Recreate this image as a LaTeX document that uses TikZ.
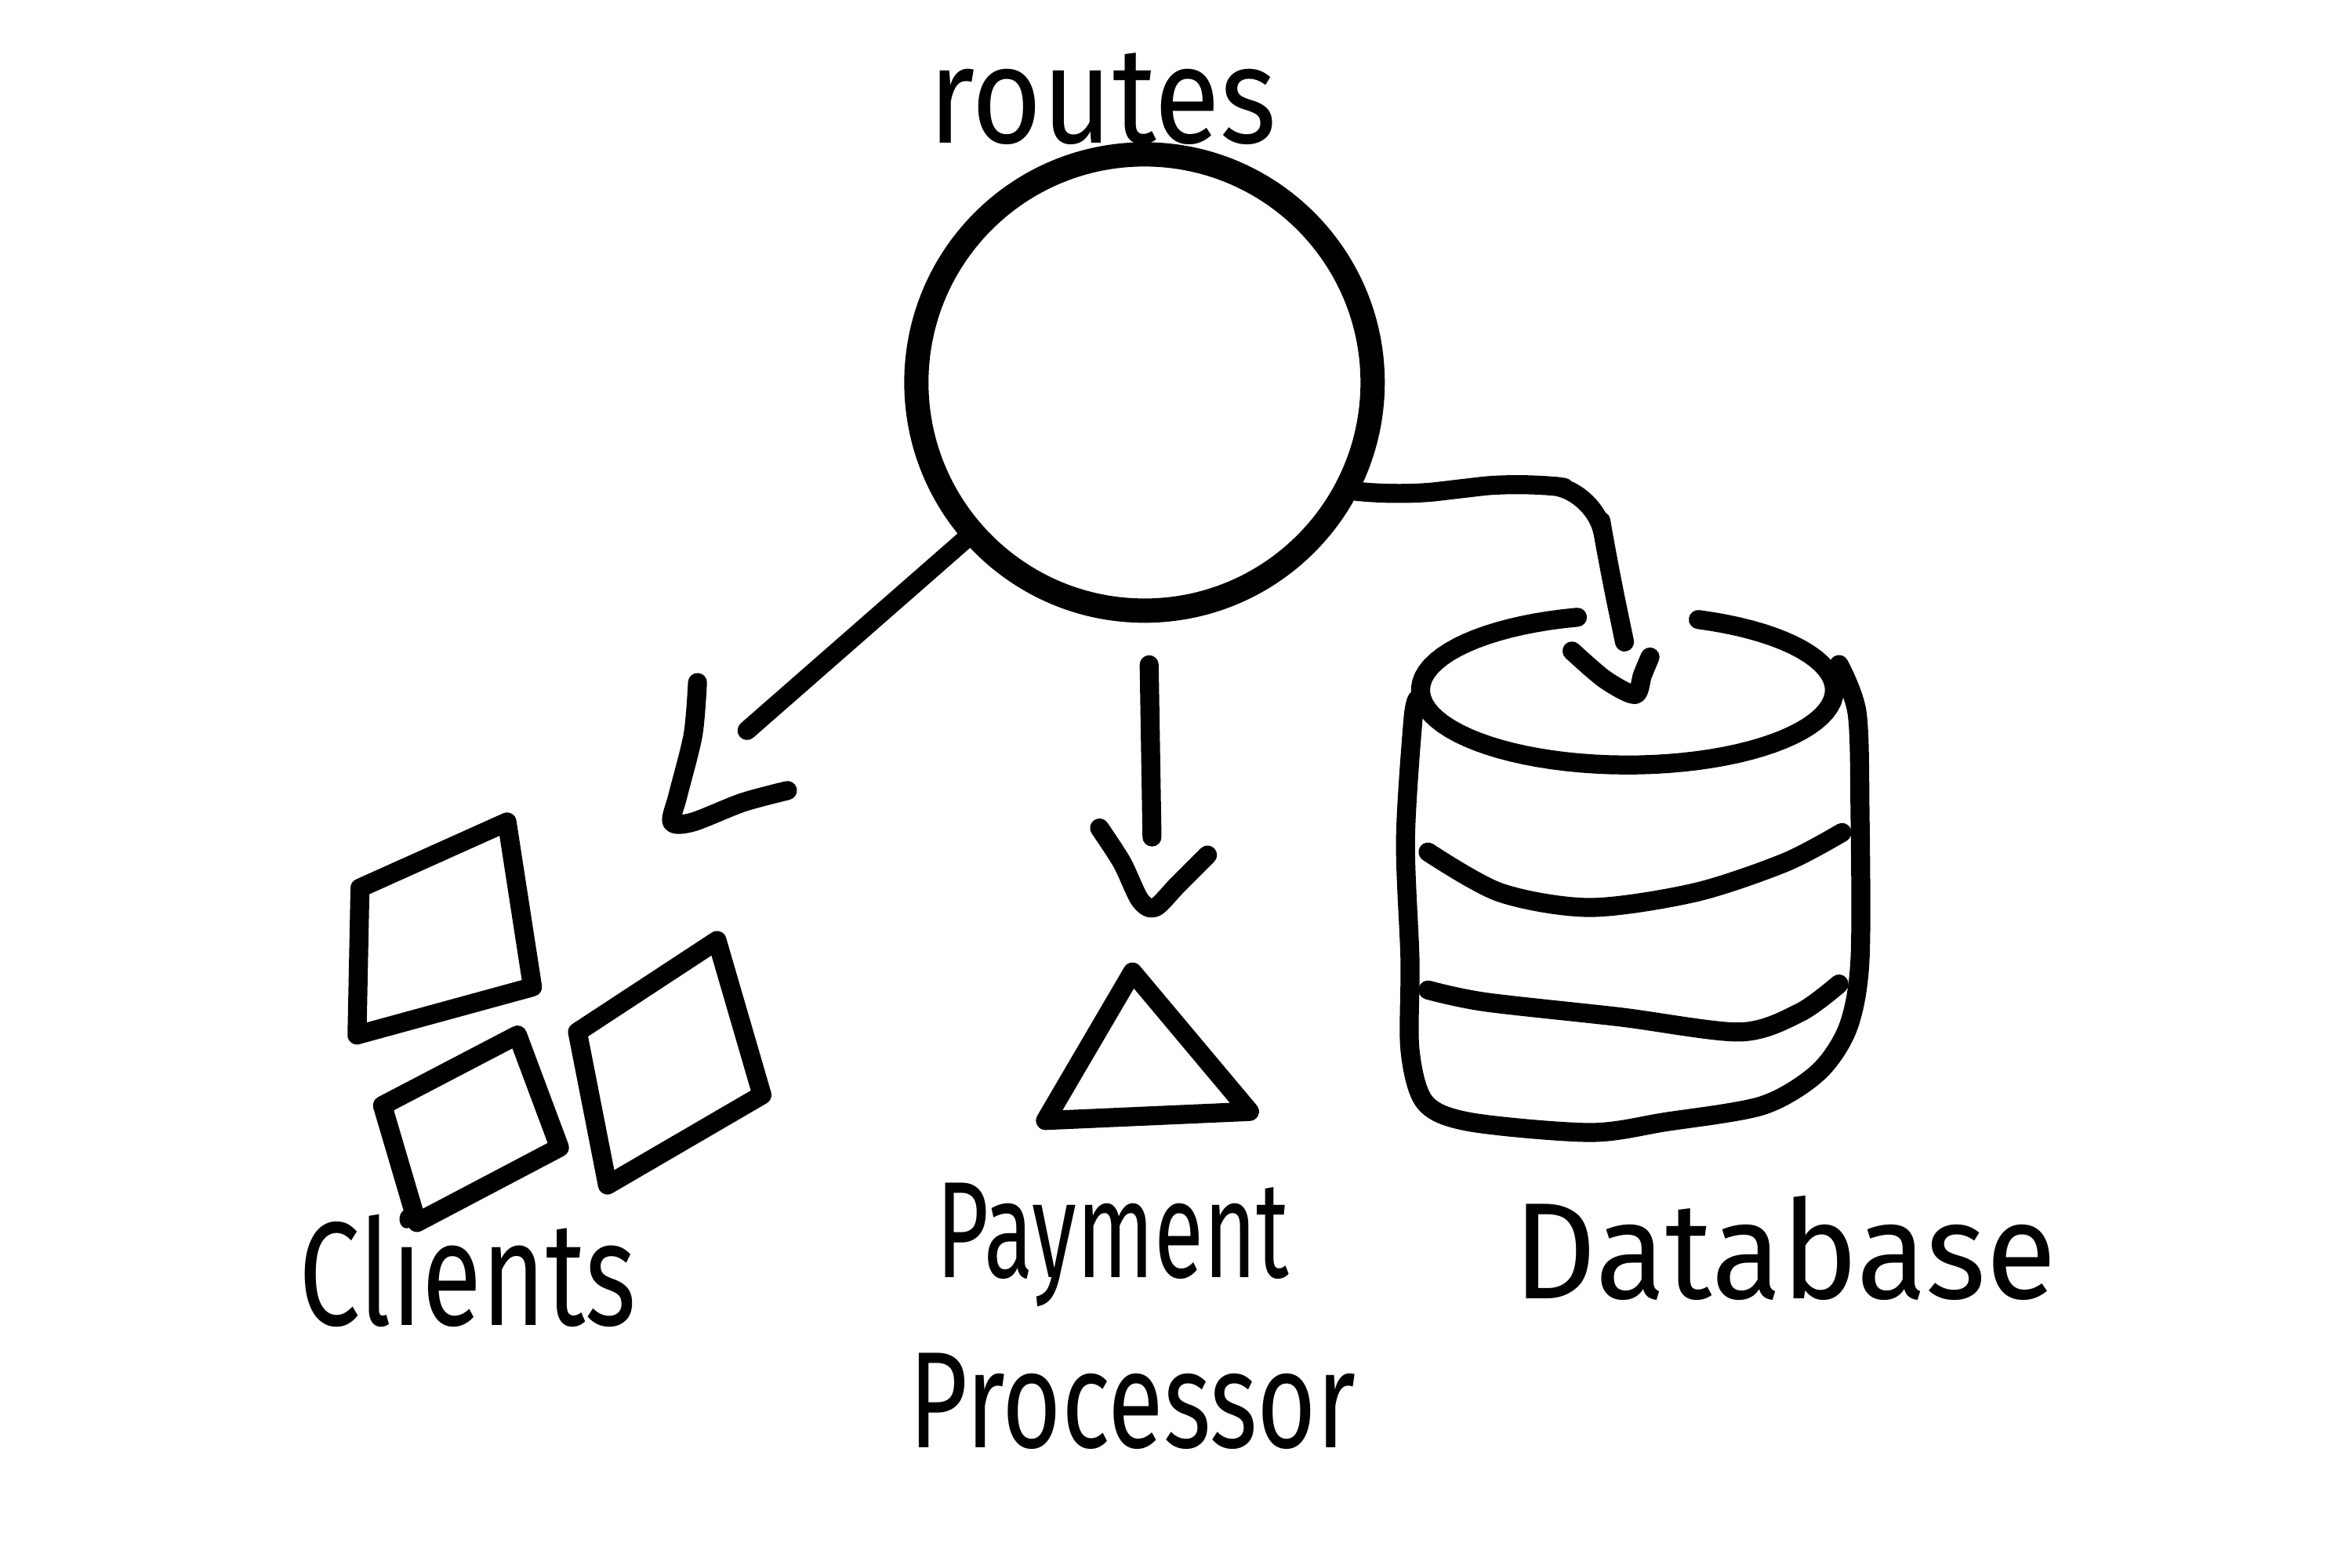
\documentclass[tikz,border=0pt]{standalone}
\usepackage{fontspec}
\setmainfont{Fira Sans}
\begin{document}
\begin{tikzpicture}[x=0.01cm, y=-0.01cm, line width=3.6pt, line cap=round, line join=round,
  handtext/.style={font=\fontsize{26}{30}\selectfont}]
\useasboundingbox (0,0) rectangle (1568,1045);

\def\cx{763};
\def\cy{255};

% routes
\node[draw, circle, line width=4.6pt, minimum size=3.04cm] (routes) at (\cx,\cy) {};
\node[handtext, xscale=0.88] (routeslbl) at (735,66) {routes};

\coordinate (ca) at (498,487);
\coordinate (pa) at (768,558);
\coordinate (da) at (1083,428);

% arrows
\draw (routes) -- (ca);
\draw plot[smooth] coordinates {(465,455) (462,490) (452,530) (448,548) (462,548) (495,535) (525,527)};

\draw[shorten <=0.28cm] (routes) -- (pa);
\draw plot[smooth] coordinates {(733,552) (748,575) (760,600) (770,605) (785,590) (805,570)};

\draw[rounded corners=8pt] (routes.-27) -- (930,331) -- (1015,321) -- (1064,328) -- (1072,375) -- (da);
\draw plot[smooth] coordinates {(1048,434) (1070,453) (1090,463) (1095,450) (1100,438)};

% clients
\draw (240,592) -- (338,548) -- (355,658) -- (238,690) -- cycle;
\draw (255,737) -- (345,690) -- (373,765) -- (278,815) -- cycle;
\draw (385,688) -- (478,627) -- (508,730) -- (405,790) -- cycle;
\node[handtext, font=\fontsize{28}{32}\selectfont, xscale=0.74] (clientslbl) at (312,846) {Clients};

% payment processor
\draw (697,747) -- (755,648) -- (833,741) -- cycle;
\node[handtext, xscale=0.66] (paylbl) at (742,830) {Payment};
\node[handtext, xscale=0.74] (proclbl) at (755,934) {Processor};

% database
\draw plot[domain=104:430, samples=80] ({1085+138*cos(\x)}, {460-50*sin(\x)});
\draw plot[smooth] coordinates {(1226,443) (1238,475) (1240,540) (1240,640) (1232,685) (1212,715) (1175,737) (1110,748) (1060,755) (980,748) (950,735) (940,700) (940,640) (937,560) (942,480) (945,466)};
\draw plot[smooth] coordinates {(952,568) (1000,595) (1060,605) (1130,595) (1190,575) (1228,555)};
\draw plot[smooth] coordinates {(952,660) (990,668) (1080,678) (1160,688) (1200,675) (1226,656)};
\node[handtext, xscale=0.94] (dblbl) at (1190,832) {Database};

\end{tikzpicture}
\end{document}
